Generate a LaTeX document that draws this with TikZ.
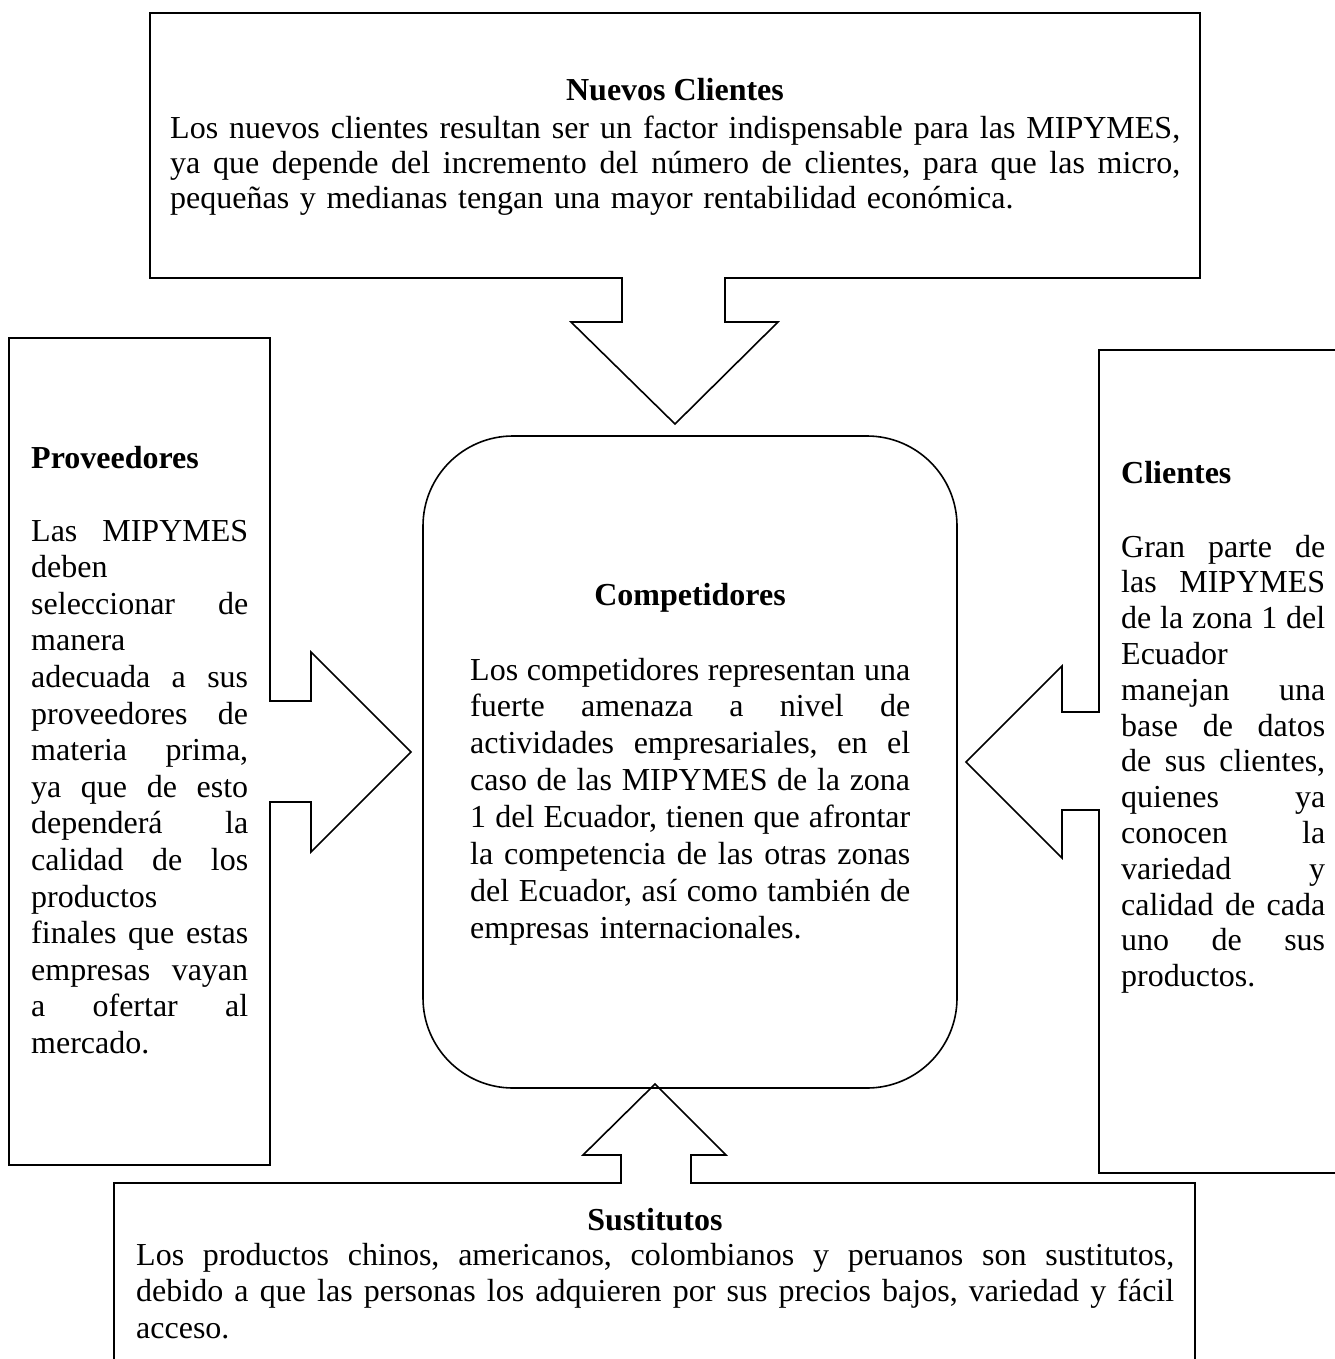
\documentclass[tikz,border=0pt]{standalone}
\usepackage{fontspec}
\setmainfont{Liberation Serif}
\newcommand\jl[1]{\leavevmode\hbox to\hsize{\frenchspacing\spaceskip=.25em plus 1fil minus .12em\xspaceskip=\spaceskip\relax #1}}
\begin{document}
\begin{tikzpicture}[x=1pt,y=-1pt,
  shp/.style={draw=black, line width=1.6pt, line join=miter},
  body/.style={inner sep=0pt, anchor=base west, align=left, font=\fontsize{32}{#1}\selectfont},
  ttl/.style={inner sep=0pt, anchor=base, font=\fontsize{32}{36}\selectfont\bfseries},
  ttlw/.style={inner sep=0pt, anchor=base west, font=\fontsize{32}{36}\selectfont\bfseries}]
\useasboundingbox (0,0) rectangle (1334,1359);

% centre box
\node[shp, rounded corners=90pt, minimum width=534pt, minimum height=652pt, inner sep=0pt] (comp) at (690,762) {};

% top callout (Nuevos Clientes)
\draw[shp] (150,13) -- (1200,13) -- (1200,278) -- (725,278) -- (725,322) -- (778,322)
  -- (675,424) coordinate (ntip) -- (571,322) -- (622,322) -- (622,278) -- (150,278) -- cycle;

% left callout (Proveedores)
\draw[shp] (9,338) -- (270,338) -- (270,701) -- (311,701) -- (311,652) -- (411,752) coordinate (ptip)
  -- (311,852) -- (311,802) -- (270,802) -- (270,1165) -- (9,1165) -- cycle;

% right callout (Clientes)
\draw[shp] (1099,350) -- (1345,350) -- (1345,1173) -- (1099,1173) -- (1099,810) -- (1062,810)
  -- (1062,858) -- (966,762) coordinate (ctip) -- (1062,666) -- (1062,712) -- (1099,712) -- cycle;

% bottom callout (Sustitutos)
\draw[shp] (114,1375) -- (114,1183) -- (621,1183) -- (621,1155) -- (583,1155) -- (655,1084) coordinate (stip)
  -- (726,1155) -- (691,1155) -- (691,1183) -- (1195,1183) -- (1195,1375);

% texts
\node[ttl] (nctitle) at (675,101) {Nuevos Clientes};
\node[body=35, text width=1010pt] (ncbody) at (170,139) {%
\jl{Los nuevos clientes resultan ser un factor indispensable para las MIPYMES,}\\
\jl{ya que depende del incremento del número de clientes, para que las micro,}\\
pequeñas y medianas tengan una mayor rentabilidad económica.};

\node[ttlw] (provtitle) at (31,468) {Proveedores};
\node[body=36.6, text width=217pt] (provbody) at (31,541) {%
\jl{Las MIPYMES}\\
deben\\
\jl{seleccionar de}\\
manera\\
\jl{adecuada a sus}\\
\jl{proveedores de}\\
\jl{materia prima,}\\
\jl{ya que de esto}\\
\jl{dependerá la}\\
\jl{calidad de los}\\
productos\\
\jl{finales que estas}\\
\jl{empresas vayan}\\
\jl{a ofertar al}\\
mercado.};

\node[ttl] (comptitle) at (690,605) {Competidores};
\node[body=36.9, text width=440pt] (compbody) at (470,680) {%
\jl{Los competidores representan una}\\
\jl{fuerte amenaza a nivel de}\\
\jl{actividades empresariales, en el}\\
\jl{caso de las MIPYMES de la zona}\\
\jl{1 del Ecuador, tienen que afrontar}\\
\jl{la competencia de las otras zonas}\\
\jl{del Ecuador, así como también de}\\
empresas internacionales.};

\node[ttlw] (clititle) at (1121,483) {Clientes};
\node[body=35.8, text width=204pt] (clibody) at (1121,557) {%
\jl{Gran parte de}\\
\jl{las MIPYMES}\\
\jl{de la zona 1 del}\\
Ecuador\\
\jl{manejan una}\\
\jl{base de datos}\\
\jl{de sus clientes,}\\
\jl{quienes ya}\\
\jl{conocen la}\\
\jl{variedad y}\\
\jl{calidad de cada}\\
\jl{uno de sus}\\
productos.};

\node[ttl] (sustitle) at (655,1230) {Sustitutos};
\node[body=36.5, text width=1038pt] (susbody) at (136,1265) {%
\jl{Los productos chinos, americanos, colombianos y peruanos son sustitutos,}\\
\jl{debido a que las personas los adquieren por sus precios bajos, variedad y fácil}\\
acceso.};
\end{tikzpicture}
\end{document}
